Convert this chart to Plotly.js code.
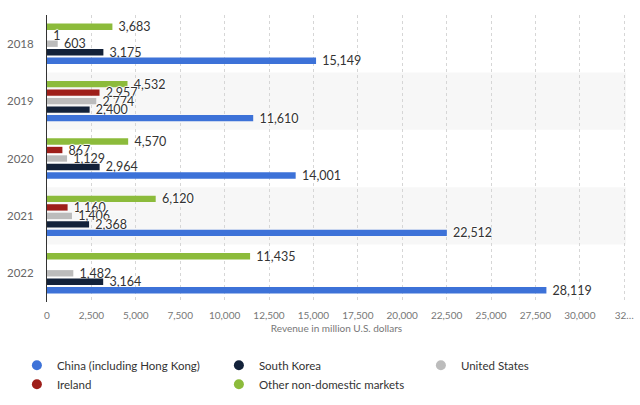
<!DOCTYPE html>
<html><head><meta charset="utf-8">
<script src="https://cdn.plot.ly/plotly-3.0.1.min.js"></script>
<style>html,body{margin:0;padding:0;background:#fff}#chart{width:640px;height:405px}</style>
</head><body><div id="chart"></div>
<script>
const years = ["2018","2019","2020","2021","2022"];
const china = [15149, 11610, 14001, 22512, 28119];
const southKorea = [3175, 2400, 2964, 2368, 3164];
const unitedStates = [603, 2774, 1129, 1406, 1482];
const ireland = [1, 2957, 867, 1160, null];
const other = [3683, 4532, 4570, 6120, 11435];
const tickVals = [0,2500,5000,7500,10000,12500,15000,17500,20000,22500,25000,27500,30000,32500];
const tickText = ["0","2,500","5,000","7,500","10,000","12,500","15,000","17,500","20,000","22,500","25,000","27,500","30,000","32…"];

const series = [
  {name:"Other non-domestic markets", vals: other, color:"#8cbb3b"},
  {name:"Ireland", vals: ireland, color:"#9e1f1a"},
  {name:"United States", vals: unitedStates, color:"#bcbcbc"},
  {name:"South Korea", vals: southKorea, color:"#13223a"},
  {name:"China (including Hong Kong)", vals: china, color:"#3d72d8"}
];
const fmt = v => v == null ? "" : "\u00a0" + v.toLocaleString("en-US");
const shadow = "1px 0 1px #fff, -1px 0 1px #fff, 0 1px 1px #fff, 0 -1px 1px #fff";
const traces = series.map(s => ({
  type:"bar", orientation:"h", name:s.name, y:years, x:s.vals,
  marker:{color:s.color}, text:s.vals.map(fmt), textposition:"outside",
  constraintext:"none", cliponaxis:false, showlegend:false, hoverinfo:"none",
  textfont:{family:"Lato, sans-serif", size:12.5, color:"#333", shadow:shadow}
}));
["China (including Hong Kong)","South Korea","United States","Ireland","Other non-domestic markets"].forEach(n => {
  const s = series.find(q => q.name === n);
  traces.push({type:"scatter", mode:"markers", name:n, x:[null], y:[null],
    marker:{color:s.color, size:10, symbol:"circle"}, showlegend:true, hoverinfo:"none"});
});
const shapes = years.map((y,i) => i % 2 === 1 ? {
  type:"rect", xref:"paper", yref:"y", x0:0, x1:1, y0:i-0.5, y1:i+0.5,
  fillcolor:"#f7f7f7", line:{width:0}, layer:"below"} : null).filter(Boolean);

const layout = {
  width:640, height:405, margin:{l:47, r:14, t:15, b:103, autoexpand:false},
  paper_bgcolor:"#fff", plot_bgcolor:"rgba(0,0,0,0)",
  barmode:"group", bargap:0.26, bargroupgap:0.25,
  font:{family:"Lato, sans-serif", color:"#666"},
  shapes: shapes,
  xaxis:{range:[0,32600], tickvals:tickVals, ticktext:tickText, showgrid:true,
    gridcolor:"#d6d6d6", griddash:"dot", zeroline:false, showline:false,
    tickfont:{size:10, color:"#777"}, ticks:"outside", ticklen:4, tickcolor:"rgba(0,0,0,0)",
    title:{text:"Revenue in million U.S. dollars", font:{size:10, color:"#777"}, standoff:4}},
  yaxis:{type:"category", categoryorder:"array", categoryarray:years, autorange:"reversed",
    showline:true, linecolor:"#333", linewidth:1, showgrid:false, zeroline:false,
    ticks:"outside", ticklen:10, tickcolor:"rgba(0,0,0,0)", tickfont:{size:11.5, color:"#666"}},
  legend:{orientation:"h", x:-0.052, xanchor:"left", y:-0.17, yanchor:"top",
    entrywidth:157, entrywidthmode:"pixels", font:{size:11.5, color:"#333"},
    itemclick:false, tracegroupgap:0},
  showlegend:true
};
Plotly.newPlot("chart", traces, layout, {displayModeBar:false, staticPlot:true});
</script></body></html>
